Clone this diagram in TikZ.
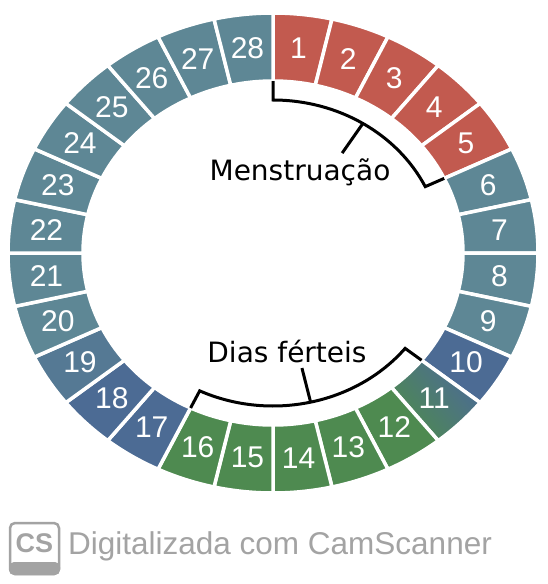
\documentclass[tikz,border=0pt]{standalone}
\usepackage{fontspec}
\setmainfont{Liberation Sans}
\newfontfamily\labelfont{DejaVu Sans}
\usetikzlibrary{calc}

\definecolor{cycred}{HTML}{C25A4F}
\definecolor{cycteal}{HTML}{5E8795}
\definecolor{cycblue}{HTML}{4C6B94}
\definecolor{cycgreen}{HTML}{4E8A50}
\definecolor{scangray}{HTML}{A3A3A3}

\begin{document}
\begin{tikzpicture}[
            x=1pt, y=1pt,
            daybox/.style={draw=white, line width=3.5pt, line join=miter},
            menses/.style={fill=cycred},
            restday/.style={fill=cycteal},
            lateday/.style={fill=cycblue},
            midday/.style={fill=cycblue!50!cycteal},
            fertile/.style={fill=cycgreen},
            fertedge/.style={bottom color=cycgreen, top color=cycblue, middle color=cycgreen!50!cycblue, shading angle=-51},
            daynum/.style={text=white, font=\fontsize{30}{30}\selectfont, inner sep=0pt},
            phaselabel/.style={font=\labelfont\fontsize{28}{28}\selectfont, inner sep=0pt, anchor=base},
            bracket/.style={draw=black, line width=3pt, line join=miter},
            scantext/.style={text=scangray, font=\fontsize{31.5}{31.5}\selectfont, inner sep=0pt}
        ]
            \useasboundingbox (0,0) rectangle (548,-584);
            \fill[white] (0,0) rectangle (548,-584);

            % ring of days
            \begin{scope}[shift={(273,-253)}]
                \foreach \d/\kind in {1/menses,2/menses,3/menses,4/menses,5/menses,
                                      6/restday,7/restday,8/restday,9/restday,10/lateday,
                                      11/fertedge,12/fertile,13/fertile,14/fertile,15/fertile,16/fertile,
                                      17/lateday,18/lateday,19/midday,20/restday,21/restday,22/restday,
                                      23/restday,24/restday,25/restday,26/restday,27/restday,28/restday} {
                    \pgfmathsetmacro{\ta}{90-(\d-1)*360/28}
                    \pgfmathsetmacro{\tb}{90-\d*360/28}
                    \pgfmathsetmacro{\tm}{90-(\d-0.5)*360/28}
                    \filldraw[daybox, \kind] ({265*cos(\ta)},{240*sin(\ta)})
                        arc[start angle=\ta, end angle=\tb, x radius=265, y radius=240]
                        -- ({190*cos(\tb)},{172*sin(\tb)})
                        arc[start angle=\tb, end angle=\ta, x radius=190, y radius=172] -- cycle;
                    \node[daynum] (n\d) at ({228*cos(\tm)},{206*sin(\tm)}) {\d};
                }

                % menstruation bracket
                \coordinate (ms) at (0,172);
                \coordinate (me) at ({190*cos(25.71)},{172*sin(25.71)});
                \coordinate (mtick) at ({169*cos(57.86)},{153*sin(57.86)});
                \coordinate (mtip) at ({130*cos(57.86)},{118*sin(57.86)});
                \draw[bracket] (ms) -- (0,153)
                    arc[start angle=90, end angle=25.71, x radius=169, y radius=153] -- (me);
                \draw[bracket] (mtick) -- (mtip);

                % fertile bracket
                \coordinate (fs) at ({190*cos(-38.57)},{172*sin(-38.57)});
                \coordinate (fe) at ({190*cos(-115.71)},{172*sin(-115.71)});
                \coordinate (ftick) at ({169*cos(-77.14)},{153*sin(-77.14)});
                \coordinate (ftip) at ({130*cos(-77.14)},{118*sin(-77.14)});
                \draw[bracket] (fs) -- ({169*cos(-38.57)},{153*sin(-38.57)})
                    arc[start angle=-38.57, end angle=-115.71, x radius=169, y radius=153] -- (fe);
                \draw[bracket] (ftick) -- (ftip);
            \end{scope}

            \node[phaselabel] (menlbl) at (300,-180) {Menstruação};
            \node[phaselabel] (fertlbl) at (287,-362) {Dias férteis};

            % scanner mark
            \fill[scangray, rounded corners=5pt] (9,-562) rectangle (60,-575);
            \draw[scangray, line width=2.5pt, rounded corners=5pt] (10,-523) rectangle (59,-574);
            \node[text=scangray, font=\fontsize{27}{27}\selectfont\bfseries, inner sep=0pt] (cslogo) at (34.5,-543) {CS};
            \node[scantext, anchor=base west] (scan) at (68,-554) {Digitalizada com CamScanner};
        \end{tikzpicture}
\end{document}
